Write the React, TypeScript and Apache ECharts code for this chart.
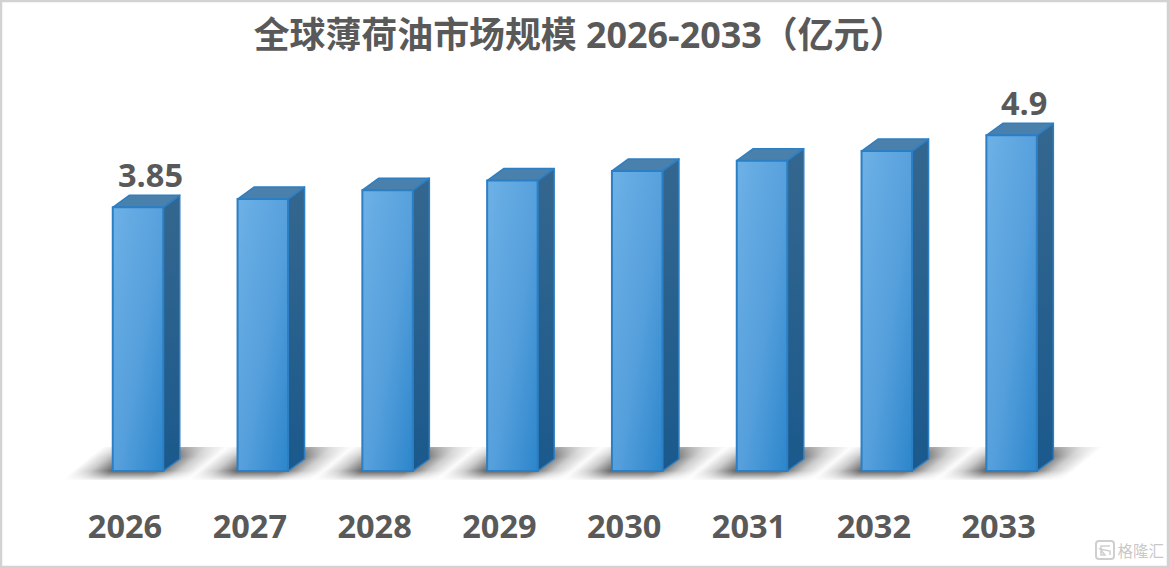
import React, { useEffect, useRef } from "react";
import * as echarts from "echarts";

const years = ["2026", "2027", "2028", "2029", "2030", "2031", "2032", "2033"];
const marketSize = [3.85, 3.97, 4.1, 4.24, 4.38, 4.53, 4.67, 4.9];
const labelledYears = ["2026", "2033"];
const titleText = "全球薄荷油市场规模 2026-2033（亿元）";

const W = 1169;
const H = 568;
const FONT = '"Open Sans", "Noto Sans CJK SC", sans-serif';
const TEXT = "#595959";

function renderShadow(params: any, api: any) {
  const i = api.value(0);
  const [cx, y0] = api.coord([i, 0]);
  const fx = cx + 13 - 26;
  const bottom = y0 + 9;
  const top = y0 - 24;
  const l = fx - 50;
  const span = 127;
  const slant = 40;
  const pts = [
    [l, bottom],
    [l + span, bottom],
    [l + span + slant, top],
    [l + slant, top],
  ];
  const c = "72,72,72";
  return {
    type: "group",
    children: [
      {
        type: "polygon",
        shape: { points: pts },
        style: {
          fill: {
            type: "linear",
            global: true,
            x: l,
            y: bottom,
            x2: l + 51.4,
            y2: bottom + 62.3,
            colorStops: [
              { offset: 0, color: `rgba(${c},0)` },
              { offset: 0.14, color: `rgba(${c},0.3)` },
              { offset: 0.32, color: `rgba(${c},0.92)` },
              { offset: 0.66, color: `rgba(${c},0.92)` },
              { offset: 0.84, color: `rgba(${c},0.3)` },
              { offset: 1, color: `rgba(${c},0)` },
            ],
          },
        },
      },
      {
        type: "polygon",
        shape: { points: pts },
        style: {
          fill: {
            type: "linear",
            global: true,
            x: 0,
            y: top,
            x2: 0,
            y2: bottom,
            colorStops: [
              { offset: 0, color: "rgba(255,255,255,0.5)" },
              { offset: 0.3, color: "rgba(255,255,255,0.1)" },
              { offset: 0.72, color: "rgba(255,255,255,0.05)" },
              { offset: 1, color: "rgba(255,255,255,0.92)" },
            ],
          },
        },
      },
    ],
  };
}

function renderBar(params: any, api: any) {
  const i = api.value(0);
  const v = api.value(1);
  const [cx, y0] = api.coord([i, 0]);
  const [, yTop] = api.coord([i, v]);
  const band = api.size([1, 0])[0];
  const w = (band * 50.5) / 124.8;
  const dx = (band * 16.5) / 124.8;
  const dy = 12;
  const x = cx + 13 - w / 2;
  const stroke = "#2C7FC4";
  const children: any[] = [
    {
      type: "polygon",
      shape: {
        points: [
          [x + w, yTop],
          [x + w + dx, yTop - dy],
          [x + w + dx, y0 - dy],
          [x + w, y0],
        ],
      },
      style: {
        stroke,
        lineWidth: 1.5,
        lineJoin: "round",
        fill: {
          type: "linear",
          x: 0,
          y: 0,
          x2: 0,
          y2: 1,
          colorStops: [
            { offset: 0, color: "#34678F" },
            { offset: 1, color: "#1B598C" },
          ],
        },
      },
    },
    {
      type: "polygon",
      shape: {
        points: [
          [x, yTop],
          [x + dx, yTop - dy],
          [x + w + dx, yTop - dy],
          [x + w, yTop],
        ],
      },
      style: { fill: "#4A80AC", stroke, lineWidth: 1.5, lineJoin: "round" },
    },
    {
      type: "rect",
      shape: { x, y: yTop, width: w, height: y0 - yTop },
      style: {
        stroke,
        lineWidth: 2,
        fill: {
          type: "linear",
          x: 0,
          y: 0,
          x2: 1,
          y2: 1,
          colorStops: [
            { offset: 0, color: "#6DB1E6" },
            { offset: 0.55, color: "#559FDC" },
            { offset: 1, color: "#2C86CB" },
          ],
        },
      },
    },
  ];
  if (labelledYears.includes(years[i])) {
    children.push({
      type: "text",
      style: {
        x: x + w / 2 + 12.5,
        y: yTop - 33,
        text: String(v),
        align: "center",
        verticalAlign: "middle",
        fontFamily: FONT,
        fontWeight: "bold",
        fontSize: 32.5,
        fill: TEXT,
      },
    });
  }
  return { type: "group", children };
}

export default function App() {
  const ref = useRef<HTMLDivElement>(null);
  useEffect(() => {
    const chart = echarts.init(ref.current!, undefined, {
      renderer: "svg",
      width: W,
      height: H,
    });
    const indexed = marketSize.map((v, i) => [i, v]);
    chart.setOption({
      animation: false,
      backgroundColor: "#ffffff",
      title: {
        text: titleText,
        left: 574.5,
        top: 12,
        textAlign: "center",
        textStyle: {
          fontFamily: FONT,
          fontWeight: "bold",
          fontSize: 35.9,
          color: TEXT,
        },
      },
      grid: { left: 62.6, width: 998.4, top: 60, height: 411 },
      xAxis: {
        type: "category",
        data: years,
        axisLine: { show: false },
        axisTick: { show: false },
        axisLabel: {
          margin: 38,
          fontFamily: FONT,
          fontWeight: "bold",
          fontSize: 32.5,
          color: TEXT,
        },
      },
      yAxis: { type: "value", min: 0, max: 6, show: false },
      graphic: [
        {
          type: "rect",
          silent: true,
          shape: { x: 1, y: 1, width: W - 2, height: H - 2 },
          style: { fill: "none", stroke: "#D2D2D2", lineWidth: 2.5 },
        },
        {
          type: "text",
          silent: true,
          style: {
            x: 1164,
            y: 550,
            text: "格隆汇",
            align: "right",
            verticalAlign: "middle",
            fontFamily: '"Noto Sans CJK SC", sans-serif',
            fontSize: 15.5,
            fill: "rgba(185,185,185,0.8)",
          },
        },
        {
          type: "rect",
          silent: true,
          shape: { x: 1096, y: 541, width: 18, height: 18, r: 3 },
          style: { fill: "none", stroke: "rgba(195,195,195,0.8)", lineWidth: 2 },
        },
        {
          type: "polyline",
          silent: true,
          shape: { points: [[1110, 546], [1101, 546], [1101, 555], [1105, 555], [1100, 549], [1110, 551], [1110, 555]] },
          style: { fill: "none", stroke: "rgba(195,195,195,0.8)", lineWidth: 1.5 },
        },
      ],
      series: [
        {
          type: "custom",
          z: 1,
          silent: true,
          coordinateSystem: "cartesian2d",
          renderItem: renderShadow,
          data: indexed,
          encode: { x: 0, y: 1 },
        },
        {
          type: "custom",
          z: 2,
          silent: true,
          coordinateSystem: "cartesian2d",
          renderItem: renderBar,
          data: indexed,
          encode: { x: 0, y: 1 },
        },
      ],
    });
    return () => chart.dispose();
  }, []);
  return (
    <div
      ref={ref}
      style={{ position: "fixed", left: 0, top: 0, width: W, height: H }}
    />
  );
}
